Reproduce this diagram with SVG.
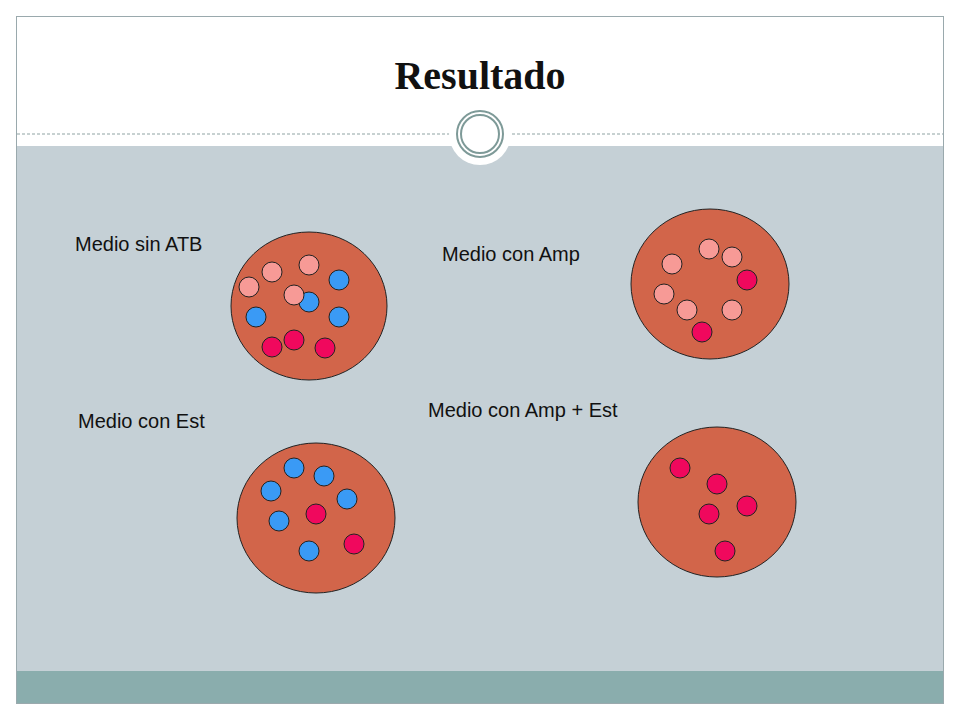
<svg xmlns="http://www.w3.org/2000/svg" width="960" height="720" viewBox="0 0 960 720">
<style>
.big{fill:#d2654a;stroke:#222;stroke-width:1}
.p{fill:#f79a96;stroke:#222;stroke-width:1}
.b{fill:#3a9af5;stroke:#222;stroke-width:1}
.r{fill:#f0085d;stroke:#222;stroke-width:1}
.l{font-family:"Liberation Sans",Arial,sans-serif;font-size:20px;fill:#111}
</style>
<rect width="960" height="720" fill="#fff"/>
<rect x="16.5" y="16.5" width="927" height="687" fill="#fff" stroke="#9aa9ad"/>
<rect x="17" y="146" width="926" height="525" fill="#c5d0d6"/>
<rect x="17" y="671" width="926" height="32" fill="#8aadad"/>
<line x1="17" y1="134" x2="943" y2="134" stroke="#8fa3a3" stroke-dasharray="3,2"/>
<circle cx="480" cy="134" r="31" fill="#fff"/>
<circle cx="480" cy="134" r="23" fill="none" stroke="#7e9a98" stroke-width="2"/>
<circle cx="480" cy="134" r="19" fill="none" stroke="#7e9a98" stroke-width="2"/>
<text x="480" y="89" text-anchor="middle" font-family="Liberation Serif,serif" font-weight="bold" font-size="40" fill="#111">Resultado</text>
<g id="n1">
<text class="l" x="75" y="251">Medio sin ATB</text>
<ellipse class="big" cx="309" cy="306" rx="78" ry="74"/>
<circle class="p" cx="249" cy="287" r="10"/><circle class="p" cx="272" cy="272" r="10"/><circle class="p" cx="309" cy="265" r="10"/>
<circle class="b" cx="339" cy="280" r="10"/><circle class="b" cx="309" cy="302" r="10"/><circle class="p" cx="294" cy="295" r="10"/>
<circle class="b" cx="256" cy="317" r="10"/><circle class="b" cx="339" cy="317" r="10"/>
<circle class="r" cx="272" cy="347" r="10"/><circle class="r" cx="294" cy="340" r="10"/><circle class="r" cx="325" cy="348" r="10"/>
</g>
<g id="n2">
<text class="l" x="442" y="261">Medio con Amp</text>
<ellipse class="big" cx="710" cy="284" rx="79" ry="75"/>
<circle class="p" cx="672" cy="264" r="10"/><circle class="p" cx="709" cy="249" r="10"/><circle class="p" cx="732" cy="257" r="10"/>
<circle class="p" cx="664" cy="294" r="10"/><circle class="p" cx="687" cy="310" r="10"/><circle class="p" cx="732" cy="310" r="10"/>
<circle class="r" cx="747" cy="280" r="10"/><circle class="r" cx="702" cy="332" r="10"/>
</g>
<g id="n3">
<text class="l" x="78" y="428">Medio con Est</text>
<ellipse class="big" cx="316" cy="518" rx="79" ry="75"/>
<circle class="b" cx="294" cy="468" r="10"/><circle class="b" cx="324" cy="476" r="10"/><circle class="b" cx="271" cy="491" r="10"/>
<circle class="b" cx="347" cy="499" r="10"/><circle class="b" cx="279" cy="521" r="10"/><circle class="b" cx="309" cy="551" r="10"/>
<circle class="r" cx="316" cy="514" r="10"/><circle class="r" cx="354" cy="544" r="10"/>
</g>
<g id="n4">
<text class="l" x="428" y="417">Medio con Amp + Est</text>
<ellipse class="big" cx="717" cy="502" rx="79" ry="75"/>
<circle class="r" cx="680" cy="468" r="10"/><circle class="r" cx="717" cy="484" r="10"/><circle class="r" cx="747" cy="506" r="10"/>
<circle class="r" cx="709" cy="514" r="10"/><circle class="r" cx="725" cy="551" r="10"/>
</g>
<g id="connectors"/>
</svg>
